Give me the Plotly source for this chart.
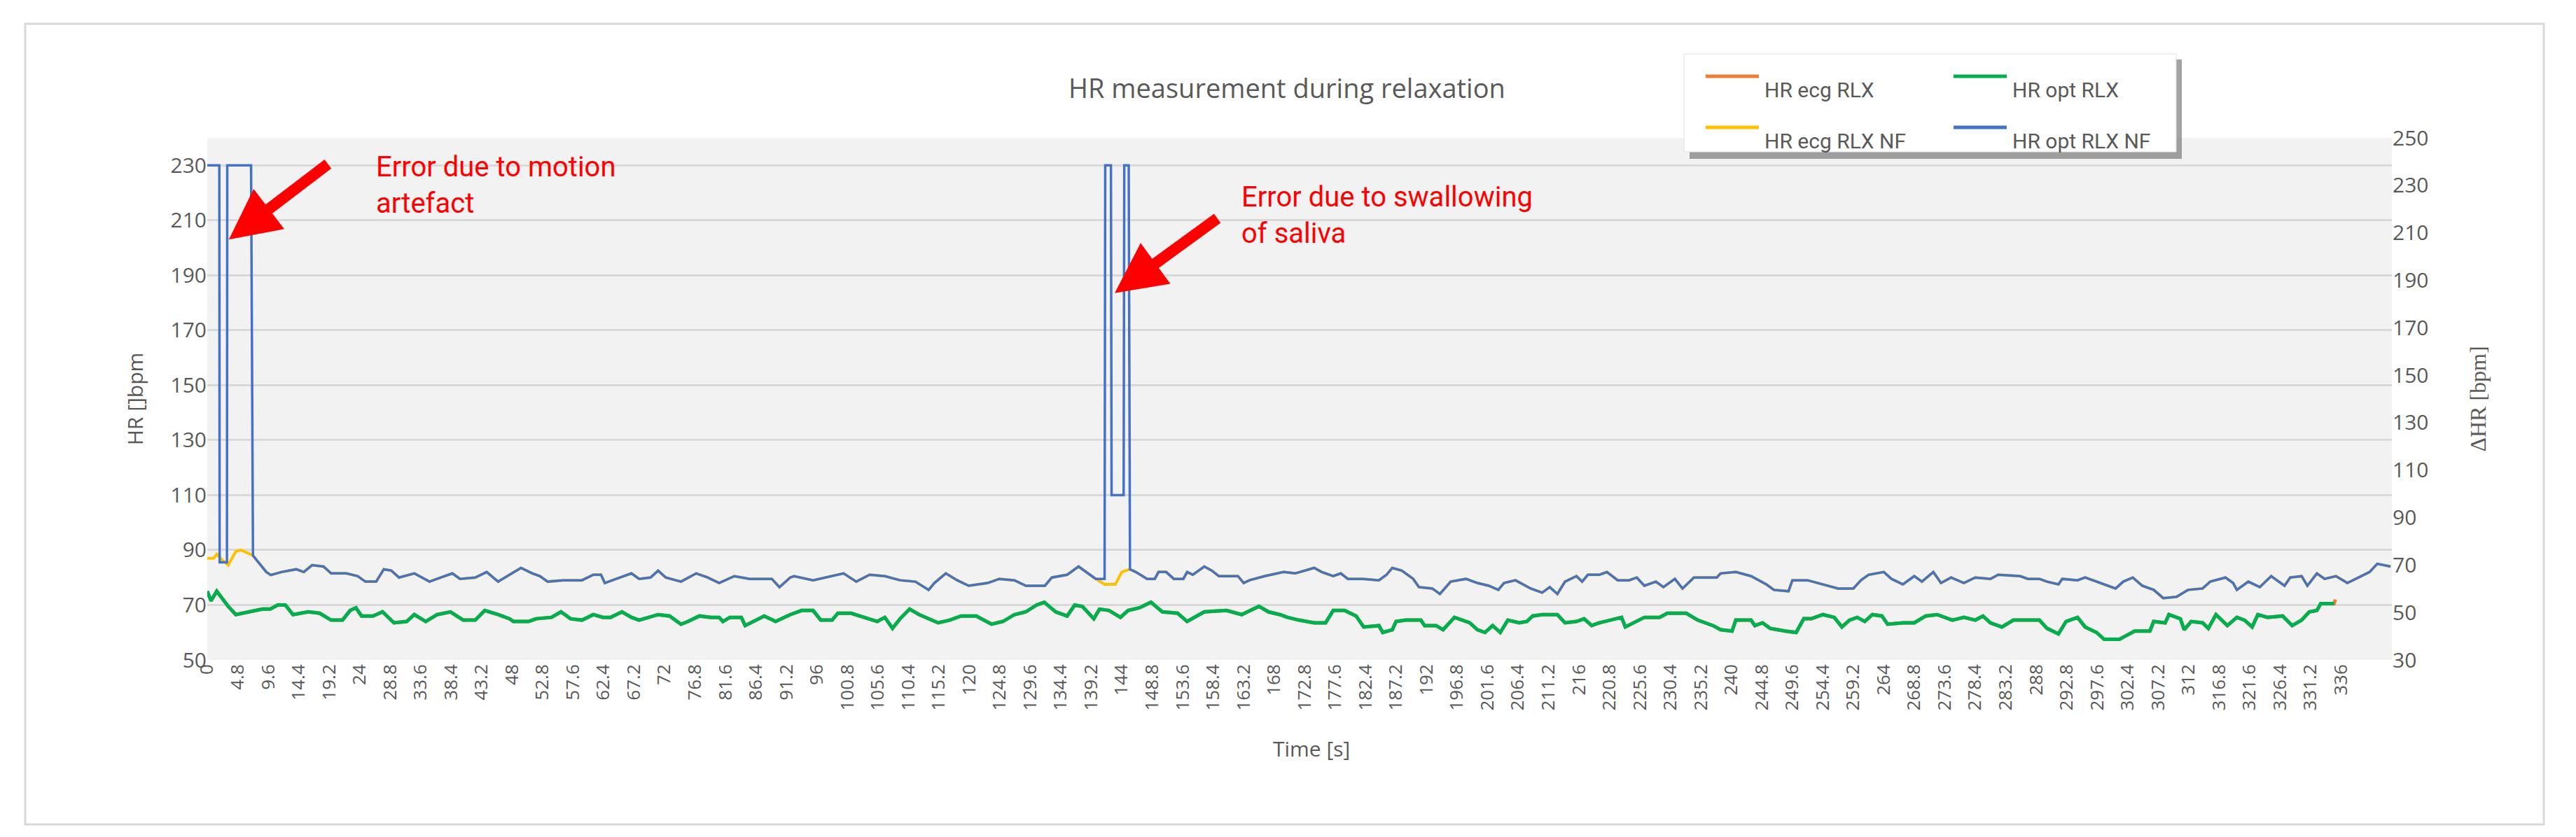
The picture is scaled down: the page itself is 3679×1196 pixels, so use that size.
import plotly.graph_objects as go

# ---- data ----
opt_rlx_t = [0,0.6,1.5,2.1,3.3,4.5,6.9,8.7,9.9,11.1,12.3,13.5,15.9,17.7,19.5,21.3,22.5,23.4,24.3,26.1,27.6,29.4,31.4,32.6,34.4,36.2,38.3,40.3,42.2,43.7,45.8,47.6,48.2,50.6,51.8,54.2,55.7,57.2,59,60.8,62.3,63.5,65.3,66.8,68,71,72.8,74.6,75.7,77.5,79.3,80.6,81.2,82.3,84.1,84.7,87.7,89.5,91.8,93.6,95.4,96.6,98.4,99.3,101.4,103.7,105.5,106.7,107.9,109.1,110.6,112.1,115.1,116.9,118.7,121.1,123.5,125.3,127.1,128.9,130.6,131.8,133.6,135.4,136.6,137.8,139.6,140.5,142,143.8,145,146.8,148.6,150.4,152.8,154.3,157,160.5,162.9,165.6,167.1,168.9,170.1,171.9,174.3,176.1,177.3,179.1,180.9,182.1,184.5,185.1,186.6,187.2,188.7,191.1,191.7,193.5,194.6,196.4,198.8,200,201.2,202.4,203.6,204.8,206.6,207.8,208.7,210.2,211.4,212.6,213.8,215.6,216.8,218,219.2,221.5,222.7,223.3,225.1,226.3,228.7,229.9,232.9,234.7,237.1,238.3,240.1,240.7,243.1,243.7,244.9,246.1,248.5,250.2,251.4,252.6,254.4,256.2,257.4,258.6,259.8,261,262.2,263.7,264.6,267,268.8,270.6,272.4,274.8,276.6,278.4,279.6,280.8,282.6,284.4,286.1,288.5,289.7,291.5,292.7,294.5,295.7,297.5,298.7,301.1,302.3,303.5,305.9,306.5,308.3,308.9,310.7,311.3,312.4,314.2,315.1,316.3,318.1,319.6,320.8,322,322.9,324.4,326.8,328.3,329.8,331,332.2,332.8,334.9]
opt_rlx_v = [75,71.5,75,73,69.5,66.5,67.5,68.5,68.5,70,70,66.5,67.5,67,64.5,64.5,68,69,66,66,67.5,63.5,64,66.5,64,66.5,67.5,64.5,64.5,68,66.5,65,64,64,65,65.5,67.5,65,64.5,66.5,65.5,65.5,67.5,65.5,64.5,66.5,66,63,64,66,65.5,65.5,64,65.5,65.5,62.5,66,64,66.5,68,68,64.5,64.5,67,67,65.5,64,65.5,61.5,65,68.5,66.5,63.5,64.5,66,66,63,64,66.5,67.5,70,71,67.5,66,70,69.5,65,68.5,68,65.5,68,69,71,67.5,67,64,67.5,68,66.5,69.5,67.5,66.5,65.5,64.5,63.5,63.5,68,68,66,62,62.5,60,61,64,64.5,64.5,62.5,62.5,61,65.5,63.5,61,60,62.5,60,64.5,63.5,64,66,66.5,66.5,66.5,63.5,64,65,62.5,63.5,65,65.5,62,64,65.5,65.5,67,67,64.5,62.5,61,60.5,64.5,64.5,62.5,63.5,61.5,60.5,60,65,65,66.5,65.5,62,64.5,65.5,64,66.5,66,63,63.5,63.5,66,66.5,64.5,65.5,64.5,66,63.5,62,64.5,64.5,64.5,61.5,59.5,64,65.5,62,60,57.5,57.5,59,60.5,60.5,64,63.5,66.5,65,61,64,63.5,61.5,66.5,62.5,65.5,64.5,62,66.5,65.5,66,62.5,64.5,67.5,68,70.5,70.5]
ecg_rlx_end_t = [335.1]
ecg_rlx_end_v = [72]

opt_nf_t = [0,1.9,1.95,3.1,3.15,6.9,7.2,9.3,10,11.7,14,15.2,16.5,18.3,19.5,21.9,23.7,24.9,26.6,27.8,29,30.2,32.6,33.8,35,36.8,38.6,39.8,42.2,44,45.8,47.6,49.4,51.2,52.4,53.6,56,59,60.8,62,62.6,64.4,66.8,68,69.8,71,72.2,74.6,77,78.8,80.6,83,85.4,88.9,90.1,91.8,92.4,95.4,98.4,100.2,102.2,104.3,106.7,109.1,111.5,113.6,114.5,116.3,118.1,119.9,122.9,124.7,127.1,128.9,131.9,133,135.4,137.2,139,139.9,141.3,141.4,142.3,142.4,144.3,144.4,145.1,145.3,146.2,148,149.2,149.8,151,152.2,153.7,154.3,155.2,157,158.2,159.3,162.3,163.2,164.1,166.5,169.5,171.3,174.3,175.5,177.3,178.5,179.6,182,184.5,185.7,186.6,188.1,189.9,190.8,192.9,194.1,195.8,198.2,200,201.8,203.3,204.2,206,208.4,210.2,211.4,212.6,213.8,215.6,216.5,217.4,219.2,220.4,222.1,223.9,225.1,226.3,228.1,229.3,231.1,232.3,234.1,237.7,238.3,240.7,243.1,245.5,246.7,249,249.6,252,254.4,256.8,259.2,260.4,261.6,264,265.2,267,268.8,270,271.8,273,274.6,276.6,278.4,280.8,282,285.5,286.7,288.5,289.7,291.5,292.1,294.5,295.7,298.1,299.3,300.5,301.7,303.2,304.7,306.5,308,310.1,311.9,314.2,315.4,317.8,319,319.6,321.4,323.2,325,327.1,328,329.8,330.7,332.2,333.4,335.2,337,338.7,340.5,341.7,343.8]
opt_nf_v = [230,230,85.5,85.5,230,230,88,82,80.9,82,83,82,84.5,84,81.5,81.5,80.5,78.5,78.5,83,82.5,80,81.5,80,78.5,80,81.5,79.5,80,82,78.5,81,83.5,81.5,80.5,78.5,79,79,81,81,78,79.5,81.5,79.5,80,82.5,80,78.5,81.5,80,78,80.5,79.5,79.5,76.5,80,80.5,79,80.5,81.5,78.5,81,80.5,79,78.5,75.5,78,81.5,79,77,78,79.5,79,77,77,80,81,84,81,79.5,79.5,230,230,110,110,230,230,83,82,79.5,79.5,82,82,79.5,79.5,82,81,84,82.5,80.5,80.5,78,79,80.5,82,81.5,83.5,82,80.5,81.5,79.5,79.5,79,81,83.5,82.5,79.5,76.5,76,74,78.5,79.5,78,77,75.5,78,79,76,74.5,76.5,74,78.5,80.5,78.5,81,81,82,79,79,80,77,78.5,76.5,79.5,76,80,80,81.5,82,80.5,77.5,75.5,75,79,79,77.5,76,76,79,81,82,79.5,77.5,80.5,78.5,82,78,80,78,80,79.5,81,80.5,79.5,79.5,78.5,77.5,79.5,79,80,78,77,76,78.5,80,77,75.5,72.5,73,75.5,76,78.5,80,78,75.5,78.5,76.5,80.5,77,80,80.5,77,81.5,79.5,80.5,78,80,82,85,84]

ecg_nf_start_t = [0,1,1.5,2.5,3.3,4.5,5.3,6.3,7.2]
ecg_nf_start_v = [87,87,88.5,86,84.5,89.5,90,89,88]
ecg_nf_mid_t = [141.3,143,144,145.3]
ecg_nf_mid_v = [77.5,77.5,82,83]

x_tick_vals = [round(i * 4.8, 1) for i in range(71)]
x_tick_text = [f"{v:g}" for v in x_tick_vals]

# build ecg series from shared readings
ecg_rlx_t = opt_rlx_t + ecg_rlx_end_t
ecg_rlx_v = opt_rlx_v + ecg_rlx_end_v
base = [(t, v) for t, v in zip(opt_nf_t, opt_nf_v) if (7.2 < t < 141.3) or t > 145.3]
pre = [p for p in base if p[0] < 141.3]
post = [p for p in base if p[0] > 145.3]
ecg_nf_t = ecg_nf_start_t + [p[0] for p in pre] + ecg_nf_mid_t + [p[0] for p in post]
ecg_nf_v = ecg_nf_start_v + [p[1] for p in pre] + ecg_nf_mid_v + [p[1] for p in post]

ORANGE, GREEN, YELLOW, BLUE = "#ED7D31", "#00B050", "#FFC000", "#4472C4"
GRAY = "#595959"

fig = go.Figure()
fig.add_trace(go.Scatter(x=ecg_rlx_t, y=ecg_rlx_v, mode="lines", name="HR ecg RLX", line=dict(color=ORANGE, width=5)))
fig.add_trace(go.Scatter(x=ecg_nf_t, y=ecg_nf_v, mode="lines", name="HR ecg RLX NF", line=dict(color=YELLOW, width=4)))
fig.add_trace(go.Scatter(x=opt_rlx_t, y=opt_rlx_v, mode="lines", name="HR opt RLX", line=dict(color=GREEN, width=5)))
fig.add_trace(go.Scatter(x=opt_nf_t, y=opt_nf_v, mode="lines", name="HR opt RLX NF", line=dict(color=BLUE, width=3.5)))
fig.add_trace(go.Scatter(x=[None], y=[None], yaxis="y2", showlegend=False, hoverinfo="skip"))

L, R, T, B = 288, 271, 189, 261
PW, PH = 3679 - L - R, 1196 - T - B
def px(x): return (x - L) / PW
def py(y): return (1196 - B - y) / PH

shapes = [
    dict(type="rect", xref="paper", yref="paper", x0=px(28), x1=px(3625), y0=py(26), y1=py(1170),
         line=dict(color="#D9D9D9", width=3), fillcolor="rgba(0,0,0,0)", layer="below"),
    dict(type="rect", xref="paper", yref="paper", x0=px(2405), x1=px(3108), y0=py(77), y1=py(219),
         line=dict(width=0), fillcolor="rgba(90,90,90,0.55)"),
    dict(type="rect", xref="paper", yref="paper", x0=px(2397), x1=px(3100), y0=py(69), y1=py(209),
         line=dict(color="#E0E0E0", width=1), fillcolor="white"),
]
ann = [
    dict(text="HR measurement during relaxation", xref="paper", yref="paper", x=px(1830), y=py(89),
         showarrow=False, font=dict(size=38, color=GRAY)),
    dict(text="Time [s]", xref="paper", yref="paper", x=px(1865), y=py(1084), showarrow=False,
         font=dict(size=30, color=GRAY)),
    dict(text="Error due to motion<br>artefact", x=26.4, y=236, xref="x", yref="y", xanchor="left", yanchor="top",
         align="left", showarrow=False, font=dict(size=40, color="#FF0000", family="Liberation Sans Narrow, Roboto")),
    dict(text="Error due to swallowing<br>of saliva", x=162.6, y=225, xref="x", yref="y", xanchor="left", yanchor="top",
         align="left", showarrow=False, font=dict(size=40, color="#FF0000", family="Liberation Sans Narrow, Roboto")),
    dict(text="", x=3.4, y=203, xref="x", yref="y", ax=143, ay=-109, showarrow=True, arrowhead=2,
         arrowsize=0.9, arrowwidth=16, arrowcolor="#FF0000"),
    dict(text="", x=142.9, y=183.5, xref="x", yref="y", ax=148, ay=-108, showarrow=True, arrowhead=2,
         arrowsize=0.9, arrowwidth=16, arrowcolor="#FF0000"),
]
legend_items = [("HR ecg RLX", ORANGE, 2428, 101), ("HR opt RLX", GREEN, 2782, 101),
                ("HR ecg RLX NF", YELLOW, 2428, 174), ("HR opt RLX NF", BLUE, 2782, 174)]
for name, col, x0, yy in legend_items:
    shapes.append(dict(type="line", xref="paper", yref="paper", x0=px(x0), x1=px(x0 + 76), y0=py(yy), y1=py(yy),
                       line=dict(color=col, width=5)))
    ann.append(dict(text=name, xref="paper", yref="paper", x=px(x0 + 82), y=py(yy), xanchor="left",
                    showarrow=False, font=dict(size=30, color=GRAY, family="Liberation Sans Narrow, Roboto")))

fig.update_layout(
    width=3679, height=1196, margin=dict(l=L, r=R, t=T, b=B),
    paper_bgcolor="white", plot_bgcolor="#F2F2F2", showlegend=False,
    font=dict(family="Open Sans, Roboto", color=GRAY),
    xaxis=dict(range=[0, 344], tickmode="array", tickvals=x_tick_vals, ticktext=x_tick_text,
               tickangle=-90, tickfont=dict(size=26, color=GRAY), showgrid=False, zeroline=False,
               showline=False, ticks=""),
    yaxis=dict(range=[50, 240], tickvals=list(range(50, 231, 20)), tickfont=dict(size=30, color=GRAY),
               gridcolor="#D9D9D9", gridwidth=3, zeroline=False, showline=False,
               title=dict(text="HR []bpm", font=dict(size=30, color=GRAY), standoff=30)),
    yaxis2=dict(range=[30, 250], overlaying="y", side="right", tickvals=list(range(30, 251, 20)),
                tickfont=dict(size=30, color=GRAY), showgrid=False, zeroline=False,
                title=dict(text="ΔHR [bpm]", font=dict(size=32, color=GRAY, family="Liberation Serif"), standoff=60)),
    shapes=shapes, annotations=ann,
)
fig.write_html("out.html")
